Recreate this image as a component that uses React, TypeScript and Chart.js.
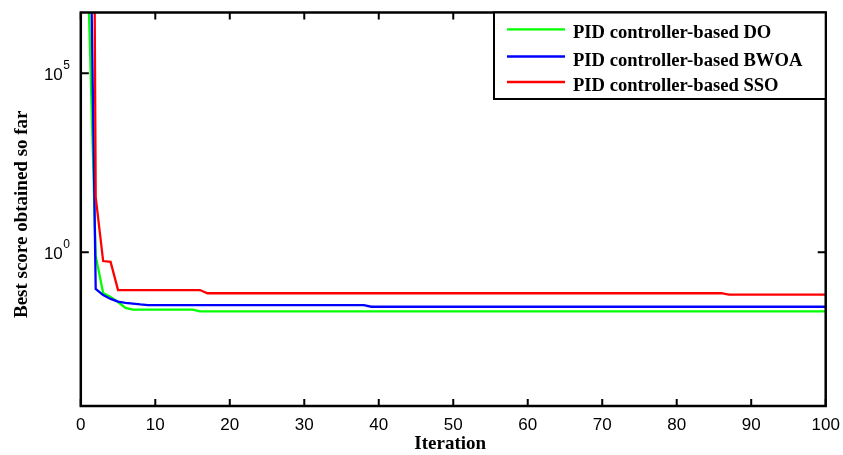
import React, { useEffect, useRef } from "react";
import { Chart, registerables } from "chart.js";

Chart.register(...registerables);

// Convergence curves (iteration -> best score), stored at the iterations where the value changes
const doIterations = [1, 2, 3, 4, 5, 6, 7, 15, 16, 100];
const doScores = [3e7, 0.79, 0.073, 0.057, 0.041, 0.028, 0.0252, 0.0252, 0.0225, 0.0225];

const bwoaIterations = [1, 2, 3, 4, 5, 6, 7, 8, 9, 38, 39, 100];
const bwoaScores = [2e13, 0.095, 0.064, 0.05, 0.042, 0.039, 0.037, 0.035, 0.0335, 0.0335, 0.0302, 0.0302];

const ssoIterations = [1, 2, 3, 4, 5, 16, 17, 86, 87, 100];
const ssoScores = [1e40, 35, 0.57, 0.54, 0.0885, 0.0885, 0.072, 0.072, 0.066, 0.066];

const seriesLabels = ["PID controller-based DO", "PID controller-based BWOA", "PID controller-based SSO"];
const seriesColors = ["#00ff00", "#0000ff", "#ff0000"];

const xTickValues = [0, 10, 20, 30, 40, 50, 60, 70, 80, 90, 100];
const yTickExponents = [0, 5];
const yRange = [5.1e-5, 5.0e6];

const xTitle = "Iteration";
const yTitle = "Best score obtained so far";

const SANS = "'Liberation Sans', Arial, sans-serif";
const SERIF = "'Liberation Serif', 'Times New Roman', serif";

function toPoints(xs: number[], ys: number[]) {
  return xs.map((x, i) => ({ x, y: ys[i] }));
}

// Box, inward ticks, superscript log labels, axis titles and the boxed legend
const framePlugin = {
  id: "matlabFrame",
  afterDatasetsDraw(chart: any) {
    const { ctx, chartArea } = chart;
    const { left, right, top, bottom } = chartArea;
    const xs = chart.scales.x;
    const ys = chart.scales.y;
    ctx.save();
    ctx.strokeStyle = "#000";
    ctx.fillStyle = "#000";

    // inward ticks
    ctx.lineWidth = 2;
    ctx.beginPath();
    xTickValues.forEach((v) => {
      const px = xs.getPixelForValue(v);
      ctx.moveTo(px, bottom);
      ctx.lineTo(px, bottom - 7);
      ctx.moveTo(px, top);
      ctx.lineTo(px, top + 7);
    });
    yTickExponents.forEach((e) => {
      const py = ys.getPixelForValue(Math.pow(10, e));
      ctx.moveTo(left, py);
      ctx.lineTo(left + 8, py);
      ctx.moveTo(right, py);
      ctx.lineTo(right - 8, py);
    });
    ctx.stroke();

    // axes box
    ctx.lineWidth = 2.5;
    ctx.strokeRect(left, top, right - left, bottom - top);

    // y tick labels: 10 with superscript exponent
    yTickExponents.forEach((e) => {
      const py = ys.getPixelForValue(Math.pow(10, e));
      ctx.font = `17px ${SANS}`;
      ctx.textAlign = "right";
      ctx.textBaseline = "middle";
      ctx.fillText("10", left - 18, py + 1.5);
      ctx.font = `12px ${SANS}`;
      ctx.textAlign = "left";
      ctx.textBaseline = "middle";
      ctx.fillText(String(e), left - 17.5, py - 8);
    });

    // axis titles
    ctx.font = `bold 19px ${SERIF}`;
    ctx.textAlign = "center";
    ctx.textBaseline = "middle";
    ctx.fillText(xTitle, (left + right) / 2 - 3, 444);
    ctx.save();
    ctx.translate(22, (top + bottom) / 2 + 5);
    ctx.rotate(-Math.PI / 2);
    ctx.fillText(yTitle, 0, 0);
    ctx.restore();

    // legend
    const lx = 494;
    const ly = top;
    const lw = right - lx;
    const lh = 99 - top;
    ctx.fillStyle = "#fff";
    ctx.fillRect(lx, ly, lw, lh);
    ctx.lineWidth = 2;
    ctx.strokeStyle = "#000";
    ctx.strokeRect(lx, ly, lw, lh);
    const rowY = [29.3, 56.5, 82];
    chart.data.datasets.forEach((ds: any, i: number) => {
      ctx.strokeStyle = ds.borderColor;
      ctx.lineWidth = 2.3;
      ctx.beginPath();
      ctx.moveTo(507, rowY[i]);
      ctx.lineTo(565, rowY[i]);
      ctx.stroke();
      ctx.fillStyle = "#000";
      ctx.font = `bold 18.6px ${SERIF}`;
      ctx.textAlign = "left";
      ctx.textBaseline = "alphabetic";
      ctx.fillText(ds.label, 573, rowY[i] + 9);
    });
    ctx.restore();
  },
};

export default function App() {
  const canvasRef = useRef<HTMLCanvasElement | null>(null);

  useEffect(() => {
    document.body.style.margin = "0";
    const canvas = canvasRef.current;
    if (!canvas) return;
    const seriesData = [
      toPoints(doIterations, doScores),
      toPoints(bwoaIterations, bwoaScores),
      toPoints(ssoIterations, ssoScores),
    ];
    const chart = new Chart(canvas, {
      type: "line",
      data: {
        datasets: seriesData.map((d, i) => ({
          label: seriesLabels[i],
          data: d,
          borderColor: seriesColors[i],
          backgroundColor: seriesColors[i],
          borderWidth: 2.3,
          pointRadius: 0,
          tension: 0,
          fill: false,
          order: 3 - i,
        })),
      },
      options: {
        animation: false,
        responsive: false,
        devicePixelRatio: 1,
        layout: { padding: { top: 12.5, right: 843 - 825.7, left: 0, bottom: 0 } },
        plugins: {
          legend: { display: false },
          tooltip: { enabled: false },
          title: { display: false },
        },
        scales: {
          x: {
            type: "linear",
            min: 0,
            max: 100,
            grid: { display: false, drawTicks: false },
            border: { display: false },
            ticks: {
              stepSize: 10,
              color: "#000",
              font: { family: SANS, size: 17 },
              padding: 9,
              maxRotation: 0,
            },
            afterFit: (s: any) => {
              s.height = 455 - 406;
              s.paddingLeft = 0;
              s.paddingRight = 0;
            },
          },
          y: {
            type: "logarithmic",
            min: yRange[0],
            max: yRange[1],
            grid: { display: false, drawTicks: false },
            border: { display: false },
            ticks: { display: false },
            afterBuildTicks: (s: any) => {
              s.ticks = yTickExponents.map((e) => ({ value: Math.pow(10, e) }));
            },
            afterFit: (s: any) => {
              s.width = 80.8;
              s.paddingTop = 0;
              s.paddingBottom = 0;
            },
          },
        },
      },
      plugins: [framePlugin],
    });
    return () => chart.destroy();
  }, []);

  return (
    <div style={{ position: "fixed", left: 0, top: 0, width: 843, height: 455, background: "#fff" }}>
      <canvas ref={canvasRef} width={843} height={455} style={{ display: "block" }} />
    </div>
  );
}
